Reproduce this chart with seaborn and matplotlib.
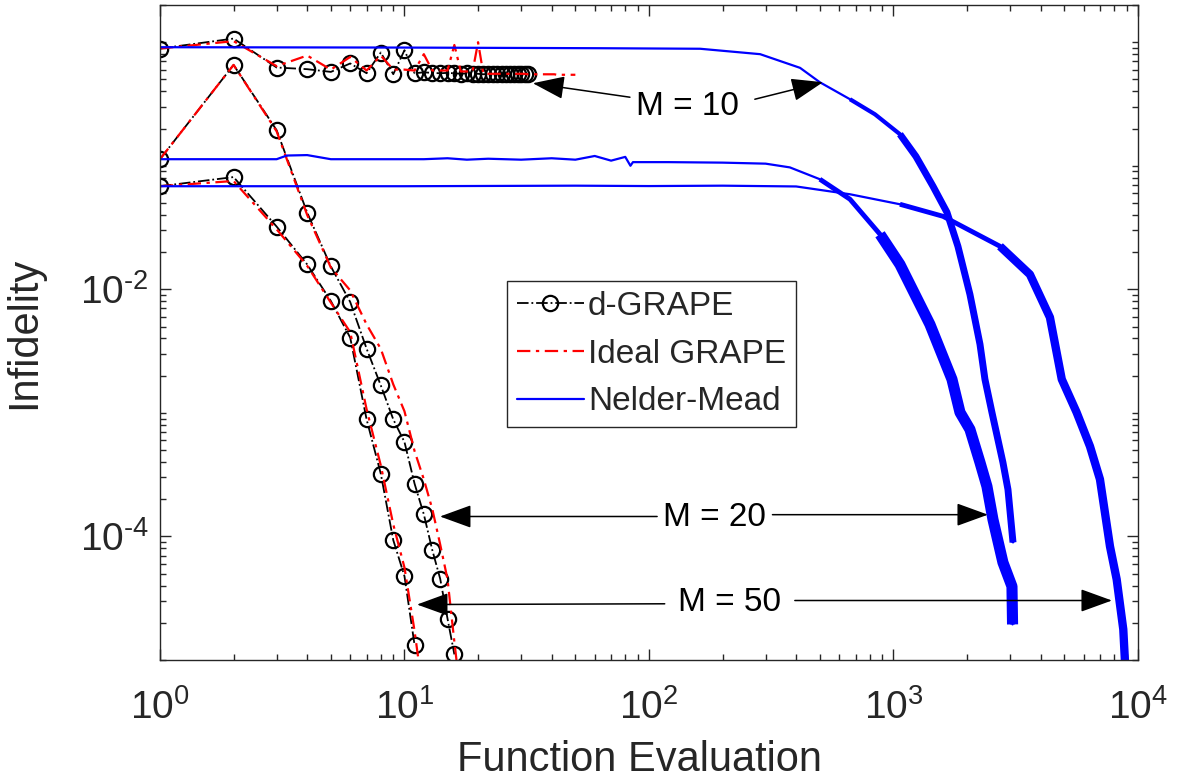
import numpy as np
import pandas as pd
import seaborn as sns
import matplotlib.pyplot as plt
from matplotlib.ticker import FixedLocator, LogLocator, NullFormatter, FuncFormatter
from matplotlib.lines import Line2D

# d-GRAPE, one list per M (function evaluation n = 1, 2, ...)
dg10 = [0.889, 1.07, 0.624, 0.605, 0.575, 0.673, 0.561, 0.825, 0.551, 0.861, 0.561,
        0.57, 0.565, 0.56, 0.565, 0.56, 0.555, 0.56, 0.555, 0.555, 0.55, 0.555,
        0.55, 0.55, 0.55, 0.55, 0.55, 0.55, 0.55, 0.55, 0.55, 0.55]
dg20 = [0.113, 0.655, 0.194, 0.0418, 0.0153, 0.00789, 0.00331, 0.00167, 8.86e-4,
        5.81e-4, 2.67e-4, 1.51e-4, 7.74e-5, 4.54e-5, 2.16e-5, 1.11e-5]
dg50 = [0.0683, 0.081, 0.0322, 0.0159, 0.00804, 0.00406, 8.86e-4, 3.22e-4,
        9.33e-5, 4.77e-5, 1.32e-5]

# ideal GRAPE
ig10 = [0.889, 1.02, 0.64, 0.78, 0.6, 0.76, 0.59, 0.78, 0.6, 0.6, 0.59, 0.8,
        0.59, 0.59, 0.59, 0.95, 0.58, 0.58, 0.58, 1.0, 0.56,
        0.555, 0.555, 0.555, 0.555, 0.555, 0.555, 0.555, 0.555, 0.555, 0.555,
        0.55, 0.55, 0.55, 0.55, 0.55, 0.55, 0.55, 0.55, 0.55, 0.55,
        0.545, 0.545, 0.545, 0.545, 0.545, 0.545, 0.545, 0.545, 0.545]
ig20 = [0.113, 0.655, 0.19, 0.04, 0.0150, 0.0098, 0.0052, 0.0033, 0.0017, 0.00103,
        4.9e-4, 2.9e-4, 1.66e-4, 8.6e-5, 4.5e-5, 1.4e-5, 5e-6]
ig50 = [0.0683, 0.0753, 0.0306, 0.0155, 0.0078, 0.0045, 0.00107, 3.76e-4,
        1.25e-4, 5.6e-5, 1.71e-5, 4.8e-6]

# Nelder-Mead (evaluation, infidelity)
nm10_n = [1, 9.6, 63, 162, 285, 415, 500, 664, 840, 1063, 1236, 1451, 1655, 1835,
          2055, 2259, 2367, 2528, 2804, 2940, 3083]
nm10_v = [0.911, 0.905, 0.894, 0.885, 0.8, 0.62, 0.474, 0.3455, 0.261, 0.180,
          0.119, 0.0683, 0.042, 0.0223, 0.0091, 0.00359, 0.00187, 0.00101,
          3.97e-4, 2.40e-4, 8.94e-5]
nm20_n = [1, 3, 3.3, 4, 5, 9.6, 12, 15, 18, 22, 30, 40, 50, 60, 70, 80, 84, 86, 120,
          200, 300, 377, 500, 664, 881, 1063, 1410, 1735, 1871, 2055, 2259, 2412,
          2553, 2804, 3053, 3070]
nm20_v = [0.113, 0.113, 0.121, 0.122, 0.113, 0.113, 0.113, 0.115, 0.112, 0.114, 0.112,
          0.115, 0.112, 0.12, 0.11, 0.118, 0.1, 0.107, 0.107, 0.106, 0.104, 0.097,
          0.0778, 0.0536, 0.0279, 0.0159, 0.0052, 0.00187, 0.00101, 7.35e-4, 3.97e-4,
          2.54e-4, 1.37e-4, 6.16e-5, 3.94e-5, 1.94e-5]
nm50_n = [1, 10, 50, 100, 200, 400, 664, 1063, 1594, 2727, 3615, 4365, 4880, 5612,
          6365, 6992, 7685, 8185, 8710, 8850]
nm50_v = [0.0683, 0.0683, 0.069, 0.0685, 0.069, 0.068, 0.0588, 0.0488, 0.039, 0.0223,
          0.0132, 0.00593, 0.00187, 0.00101, 5.36e-4, 2.9e-4, 8.3e-5, 4.49e-5,
          1.77e-5, 9.7e-6]

# annotation text positions and arrows (tail, tip) in data units
notes = [
    ("M = 10", (144, 0.303), [((83.6, 0.3587), (33.5, 0.4656)), ((271, 0.3455), (515, 0.4745))]),
    ("M = 20", (186, 1.43e-4), [((108, 1.45e-4), (13.97, 1.45e-4)), ((320, 1.5e-4), (2435, 1.5e-4))]),
    ("M = 50", (214, 2.92e-5), [((116, 2.85e-5), (11.25, 2.81e-5)), ((395, 3.03e-5), (7828, 3.03e-5))]),
]

sns.set_theme(style="ticks")
plt.rcParams["font.family"] = ["Liberation Sans", "DejaVu Sans"]
plt.rcParams["axes.unicode_minus"] = False
plt.rcParams["mathtext.fontset"] = "custom"
plt.rcParams["mathtext.rm"] = "Liberation Sans"
plt.rcParams["mathtext.it"] = "Liberation Sans:italic"

fig = plt.figure(figsize=(11.78, 7.83), dpi=100)
ax = fig.add_axes([0.1358, 0.1571, 0.8302, 0.8365])
ax.set_xscale("log")
ax.set_yscale("log")

dark = "#262626"

for vals in (dg10, dg20, dg50):
    df = pd.DataFrame({"n": np.arange(1, len(vals) + 1), "v": vals})
    sns.lineplot(data=df, x="n", y="v", ax=ax, color="black", linestyle="-.",
                 linewidth=1.3, marker="o", markersize=11, markerfacecolor="none",
                 markeredgecolor="black", markeredgewidth=1.6)

for vals in (ig10, ig20, ig50):
    df = pd.DataFrame({"n": np.arange(1, len(vals) + 1), "v": vals})
    sns.lineplot(data=df, x="n", y="v", ax=ax, color="red", linewidth=1.6)
    ax.lines[-1].set_linestyle((0, (6, 2.5, 1.5, 2.5)))

# thin line everywhere, then thicker strokes where the search gets noisy
for nn, vv, cuts in ((nm10_n, nm10_v, [(600, 3), (1000, 5)]),
                     (nm20_n, nm20_v, [(400, 3.5), (800, 8)]),
                     (nm50_n, nm50_v, [(1000, 3.5), (2500, 6)])):
    df = pd.DataFrame({"n": nn, "v": vv})
    sns.lineplot(data=df, x="n", y="v", ax=ax, color="blue", linewidth=1.6)
    for cut, w in cuts:
        sns.lineplot(data=df[df["n"] >= cut], x="n", y="v", ax=ax, color="blue",
                     linewidth=w, solid_capstyle="butt")

for label, pos, arrows in notes:
    ax.text(pos[0], pos[1], label, fontsize=24, ha="center", va="center", color="black")
    for tail, tip in arrows:
        ax.annotate("", xy=tip, xytext=tail,
                    arrowprops=dict(arrowstyle="-|>,head_length=1.1,head_width=0.4",
                                    color="black", lw=1.1, mutation_scale=18,
                                    shrinkA=0, shrinkB=0))

ax.set_xlim(1, 1e4)
ax.set_ylim(1e-5, 2)


def pow10(v, pos):
    # short hyphen in the exponent, like the original
    e = int(round(np.log10(v)))
    return r"$\mathregular{10^{%s}}$" % (("\u2010%d" % -e) if e < 0 else str(e))


ax.yaxis.set_major_locator(FixedLocator([1e-4, 1e-2]))
ax.yaxis.set_major_formatter(FuncFormatter(pow10))
ax.yaxis.set_minor_locator(LogLocator(base=10, subs=np.arange(1, 10), numticks=20))
ax.yaxis.set_minor_formatter(NullFormatter())
ax.xaxis.set_major_locator(LogLocator(base=10, numticks=10))
ax.xaxis.set_major_formatter(FuncFormatter(pow10))
ax.xaxis.set_minor_locator(LogLocator(base=10, subs=np.arange(2, 10), numticks=20))
ax.xaxis.set_minor_formatter(NullFormatter())

ax.tick_params(which="both", direction="in", top=True, right=True, colors=dark,
               labelsize=28, width=1.0)
ax.tick_params(which="major", length=8)
ax.tick_params(which="minor", length=4)
ax.tick_params(axis="x", pad=21)
ax.tick_params(axis="y", pad=8)
for s in ax.spines.values():
    s.set_color(dark)
    s.set_linewidth(1.0)

ax.set_xlabel("Function Evaluation", fontsize=30, color=dark)
ax.set_ylabel("Infidelity", fontsize=30, color=dark)
ax.xaxis.set_label_coords(0.49, -0.122)
ax.yaxis.set_label_coords(-0.118, 0.5)

handles = [
    Line2D([], [], color="black", linestyle="-.", linewidth=1.3, marker="o",
           markersize=11, markerfacecolor="none", markeredgewidth=1.6),
    Line2D([], [], color="red", linewidth=1.6, linestyle=(0, (6, 2.5, 1.5, 2.5))),
    Line2D([], [], color="blue", linewidth=1.6),
]
leg = ax.legend(handles, ["d-GRAPE", "Ideal GRAPE", "Nelder-Mead"], loc="upper left",
                bbox_to_anchor=(0.355, 0.5786), borderaxespad=0, fontsize=24,
                handlelength=2.0, handletextpad=0.12, labelspacing=0.5,
                borderpad=0.3, fancybox=False, framealpha=1, edgecolor=dark,
                numpoints=1)
leg.get_frame().set_linewidth(1.0)

fig.savefig("out.png", dpi=100)
